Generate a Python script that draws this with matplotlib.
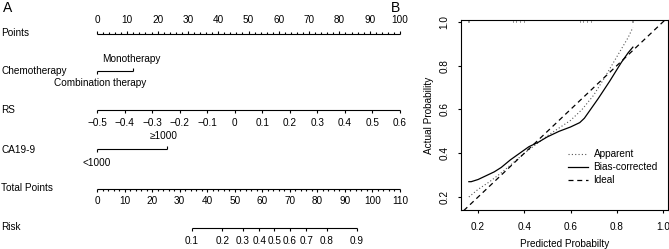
import numpy as np
import matplotlib
matplotlib.use('Agg')
import matplotlib.pyplot as plt
from matplotlib.transforms import blended_transform_factory

plt.rcParams['font.family'] = ['Liberation Sans', 'DejaVu Sans']
FS = 7.2

# ---------------- data: nomogram ----------------
points_ticks = list(range(0, 101, 10))
rs_ticks = [-0.5, -0.4, -0.3, -0.2, -0.1, 0, 0.1, 0.2, 0.3, 0.4, 0.5, 0.6]
rs_min, rs_max = -0.5, 0.6
chemo_levels = ['Combination therapy', 'Monotherapy']
chemo_points = [0.0, 11.8]
ca199_levels = ['<1000', '\u22651000']
ca199_points = [0.0, 23.0]
total_ticks = list(range(0, 111, 10))
total_max = 110
risk_ticks = [0.1, 0.2, 0.3, 0.4, 0.5, 0.6, 0.7, 0.8, 0.9]
risk_intercept = -4.715
risk_slope = 0.0732

# ---------------- data: calibration ----------------
app_x = [0.16, 0.20, 0.25, 0.30, 0.35, 0.40, 0.45, 0.50, 0.55, 0.60, 0.65, 0.70, 0.75, 0.80, 0.85, 0.87]
app_y = [0.20, 0.235, 0.27, 0.31, 0.355, 0.40, 0.44, 0.48, 0.515, 0.55, 0.60, 0.665, 0.75, 0.84, 0.93, 0.975]
bias_x = [0.16, 0.17, 0.20, 0.23, 0.27, 0.30, 0.34, 0.38, 0.42, 0.46, 0.50, 0.55, 0.60, 0.64, 0.66, 0.68, 0.72, 0.77, 0.82, 0.85, 0.87]
bias_y = [0.27, 0.27, 0.28, 0.295, 0.315, 0.335, 0.37, 0.40, 0.43, 0.45, 0.475, 0.50, 0.52, 0.54, 0.56, 0.59, 0.65, 0.73, 0.815, 0.86, 0.885]
rug_pred = [0.155, 0.16, 0.35, 0.365, 0.38, 0.40, 0.64, 0.655, 0.67, 0.69, 0.865, 0.87]
calib_ticks = [0.2, 0.4, 0.6, 0.8, 1.0]

W, H = 669, 249
fig = plt.figure(figsize=(W / 100, H / 100), dpi=100)
fig.patch.set_facecolor('white')

# ---------------- Panel A: nomogram ----------------
x0_px, x1_px = 97, 400
ax = fig.add_axes([x0_px / W, 0, (x1_px - x0_px) / W, 1])
ax.set_xlim(0, 100)
ax.set_ylim(H, 0)
ax.axis('off')
lw = 0.8
col = 'black'
lab_tr = blended_transform_factory(fig.transFigure, ax.transData)

rows = {'Points': 33, 'Chemotherapy': 71, 'RS': 110, 'CA19-9': 150,
        'Total Points': 188, 'Risk': 227}
for name, yy in rows.items():
    ax.text(1 / W, yy, name, transform=lab_tr, fontsize=FS, va='center', ha='left')

fig.text(3 / W, 1 - 8 / H, 'A', fontsize=10, va='center', ha='left')
fig.text(391 / W, 1 - 8 / H, 'B', fontsize=10, va='center', ha='left')

def hline(y, xa, xb):
    ax.plot([xa, xb], [y, y], color=col, lw=lw, clip_on=False, solid_capstyle='butt')

def vtick(x, y, ln):
    ax.plot([x, x], [y, y + ln], color=col, lw=lw, clip_on=False, solid_capstyle='butt')

# Points axis (labels above, ticks up)
yP = 34
hline(yP, 0, 100)
for v in range(0, 101, 2):
    vtick(v, yP, -3 if v % 10 == 0 else -2)
for v in points_ticks:
    ax.text(v, 20, str(v), fontsize=FS, ha='center', va='center')

# Chemotherapy
yC = 71
hline(yC, chemo_points[0], chemo_points[1])
vtick(chemo_points[0], yC, 3)
vtick(chemo_points[1], yC, -3)
ax.text(chemo_points[0] + 1, 83, chemo_levels[0], fontsize=FS, ha='center', va='center')
ax.text(chemo_points[1] - 0.5, 59, chemo_levels[1], fontsize=FS, ha='center', va='center')

# RS
yR = 110
rs_pts = lambda r: (r - rs_min) / (rs_max - rs_min) * 100
hline(yR, rs_pts(rs_min), rs_pts(rs_max))
for r in rs_ticks:
    vtick(rs_pts(r), yR, 3)
    txt = ('%g' % r).replace('-', '\u2212')
    ax.text(rs_pts(r), 123, txt, fontsize=FS, ha='center', va='center')

# CA19-9
yA = 149
hline(yA, ca199_points[0], ca199_points[1])
vtick(ca199_points[0], yA, 3)
vtick(ca199_points[1], yA, -3)
ax.text(ca199_points[0], 163, ca199_levels[0], fontsize=FS, ha='center', va='center')
ax.text(ca199_points[1] - 1, 136, ca199_levels[1], fontsize=FS, ha='center', va='center')

# Total points
yT = 189
tp = lambda t: t / total_max * 100
hline(yT, 0, 100)
for v in range(0, total_max + 1, 2):
    vtick(tp(v), yT, 3 if v % 10 == 0 else 2)
for v in total_ticks:
    ax.text(tp(v), 201, str(v), fontsize=FS, ha='center', va='center')

# Risk
yK = 228
def risk_pos(p):
    lp = np.log(p / (1 - p))
    return tp((lp - risk_intercept) / risk_slope)
hline(yK, risk_pos(risk_ticks[0]), risk_pos(risk_ticks[-1]))
for p in risk_ticks:
    vtick(risk_pos(p), yK, 3)
    ax.text(risk_pos(p), 241, '%g' % p, fontsize=FS, ha='center', va='center')

# ---------------- Panel B: calibration ----------------
L, R, T, B = 461, 668, 20, 210
axB = fig.add_axes([L / W, (H - B) / H, (R - L) / W, (B - T) / H])
axB.set_xlim(0.126, 1.022)
axB.set_ylim(0.1406, 1.009)
for s in axB.spines.values():
    s.set_linewidth(0.8)
    s.set_color('black')
axB.set_xticks(calib_ticks)
axB.set_yticks(calib_ticks)
axB.set_xticklabels(['%.1f' % v for v in calib_ticks])
axB.set_yticklabels(['%.1f' % v for v in calib_ticks])
axB.tick_params(direction='out', length=2.5, width=0.8, labelsize=FS, pad=6)
axB.tick_params(axis='y', labelrotation=90)
for lab in axB.get_yticklabels():
    lab.set_va('center')

xx = np.array([0.0, 1.1])
axB.plot(app_x, app_y, color='#555555', lw=0.8, linestyle=(0, (1, 2)), label='Apparent')
axB.plot(bias_x, bias_y, color='black', lw=0.9, label='Bias-corrected')
axB.plot(xx, xx, color='black', lw=0.9, linestyle=(0, (4, 3)), label='Ideal')
for r in rug_pred:
    axB.plot([r, r], [1.009, 1.0], color='#888888', lw=0.6)

axB.set_xlabel('Predicted Probabilty', fontsize=FS, labelpad=5)
axB.set_ylabel('Actual Probability', fontsize=FS, labelpad=4)
leg = axB.legend(loc='center left', bbox_to_anchor=(0.515, 0.225), frameon=False,
                 fontsize=FS, handlelength=2.0, handletextpad=0.6, labelspacing=0.3,
                 borderpad=0, borderaxespad=0)

fig.savefig('out.png', dpi=100, facecolor='white')
